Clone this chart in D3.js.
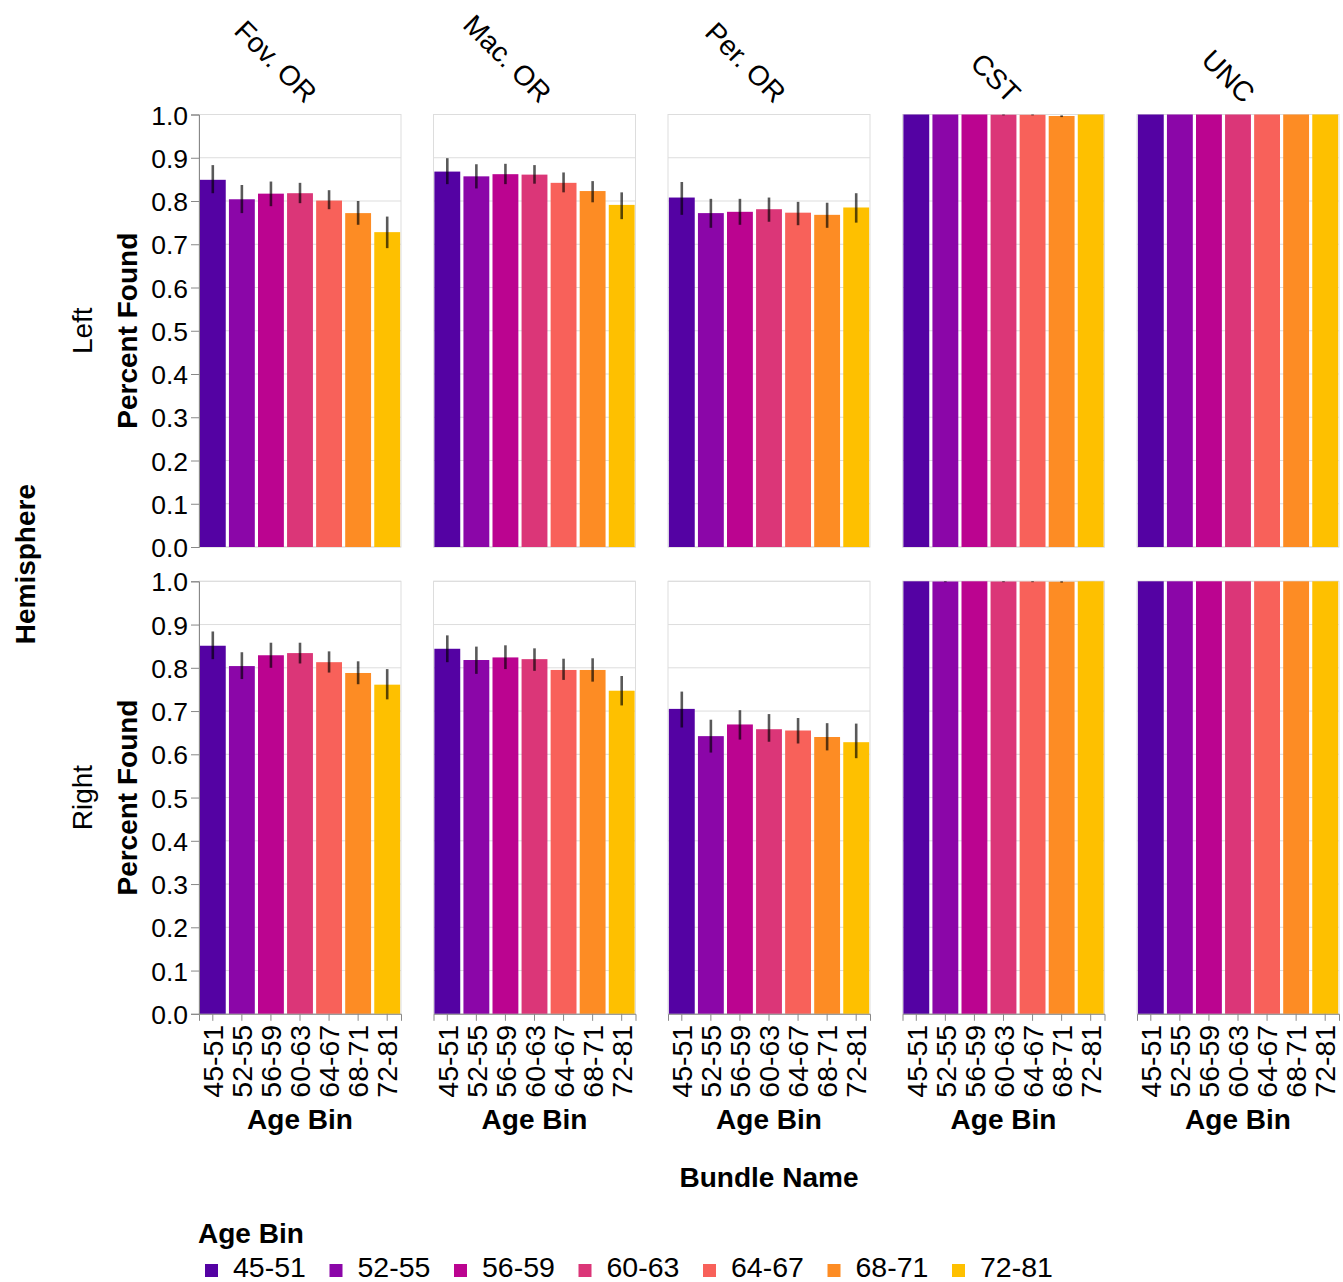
<!DOCTYPE html>
<html>
<head>
<meta charset="utf-8">
<script src="https://cdn.jsdelivr.net/npm/d3@7"></script>
<style>
  html, body { margin: 0; padding: 0; background: #fff; }
  svg text { font-family: "Liberation Sans", Arial, Helvetica, sans-serif; fill: #000; }
</style>
</head>
<body>
<svg id="chart" width="1343" height="1282"></svg>
<script>
// ---------------- DATA ----------------
const bundles = ["Fov. OR", "Mac. OR", "Per. OR", "CST", "UNC"];
const hemispheres = ["Left", "Right"];
const ageBins = ["45-51", "52-55", "56-59", "60-63", "64-67", "68-71", "72-81"];
const ageColors = ["#5402a3", "#8b06a8", "#bb0490", "#db3678", "#f8615a", "#fd8c24", "#fec000"];
const yTickValues = [0, 0.1, 0.2, 0.3, 0.4, 0.5, 0.6, 0.7, 0.8, 0.9, 1.0];

// Left hemisphere: mean, lower and upper CI per bundle (rows) and age bin (cols)
const leftMean = [
  [0.849, 0.804, 0.817, 0.818, 0.801, 0.772, 0.728],
  [0.868, 0.857, 0.862, 0.861, 0.842, 0.823, 0.791],
  [0.808, 0.772, 0.775, 0.781, 0.773, 0.768, 0.785],
  [1.000, 1.000, 1.000, 0.9995, 0.9993, 0.9965, 1.000],
  [1.000, 1.000, 1.000, 1.000, 1.000, 1.000, 1.000]
];
const leftLow = [
  [0.818, 0.772, 0.788, 0.795, 0.781, 0.745, 0.691],
  [0.839, 0.829, 0.839, 0.840, 0.820, 0.797, 0.758],
  [0.768, 0.738, 0.745, 0.752, 0.744, 0.738, 0.750],
  [1.000, 1.000, 1.000, 0.998, 0.998, 0.994, 1.000],
  [1.000, 1.000, 1.000, 1.000, 1.000, 1.000, 1.000]
];
const leftHigh = [
  [0.883, 0.837, 0.845, 0.842, 0.825, 0.800, 0.764],
  [0.899, 0.885, 0.886, 0.883, 0.866, 0.846, 0.820],
  [0.844, 0.805, 0.805, 0.808, 0.798, 0.796, 0.818],
  [1.000, 1.000, 1.000, 1.000, 1.000, 0.998, 1.000],
  [1.000, 1.000, 1.000, 1.000, 1.000, 1.000, 1.000]
];
// Right hemisphere
const rightMean = [
  [0.851, 0.804, 0.829, 0.834, 0.813, 0.788, 0.761],
  [0.844, 0.818, 0.824, 0.820, 0.795, 0.795, 0.747],
  [0.705, 0.642, 0.669, 0.658, 0.655, 0.640, 0.628],
  [1.000, 0.9995, 1.000, 0.9995, 0.9995, 0.9990, 1.000],
  [1.000, 1.000, 1.000, 1.000, 1.000, 1.000, 1.000]
];
const rightLow = [
  [0.820, 0.774, 0.800, 0.810, 0.789, 0.762, 0.727],
  [0.813, 0.786, 0.797, 0.793, 0.772, 0.768, 0.713],
  [0.662, 0.604, 0.634, 0.629, 0.625, 0.609, 0.591],
  [1.000, 0.998, 1.000, 0.998, 0.998, 0.997, 1.000],
  [1.000, 1.000, 1.000, 1.000, 1.000, 1.000, 1.000]
];
const rightHigh = [
  [0.884, 0.836, 0.858, 0.858, 0.838, 0.815, 0.797],
  [0.875, 0.849, 0.852, 0.845, 0.821, 0.822, 0.781],
  [0.745, 0.680, 0.702, 0.693, 0.684, 0.672, 0.671],
  [1.000, 1.000, 1.000, 1.000, 1.000, 1.000, 1.000],
  [1.000, 1.000, 1.000, 1.000, 1.000, 1.000, 1.000]
];

// ---------------- LAYOUT ----------------
const svg = d3.select("#chart");
const panelW = 202, panelH = 432.5;
const panelLeft0 = 199, panelStep = 234.5;
const rowTops = [114.5, 581.3];

const color = d3.scaleOrdinal().domain(ageBins).range(ageColors);
const x = d3.scaleBand().domain(ageBins).range([0, panelW]).paddingInner(0.11).paddingOuter(0.03);
const y = d3.scaleLinear().domain([0, 1]).range([panelH, 0]);

const rowsData = [
  { mean: leftMean, low: leftLow, high: leftHigh },
  { mean: rightMean, low: rightLow, high: rightHigh }
];

const gridColor = "#dddddd";
const axisColor = "#888888";

rowsData.forEach((rd, ri) => {
  bundles.forEach((b, bi) => {
    const g = svg.append("g")
      .attr("transform", `translate(${panelLeft0 + bi * panelStep},${rowTops[ri]})`);

    // gridlines
    g.selectAll("line.grid").data(yTickValues).enter().append("line")
      .attr("class", "grid")
      .attr("x1", 0).attr("x2", panelW)
      .attr("y1", d => y(d)).attr("y2", d => y(d))
      .attr("stroke", gridColor).attr("stroke-width", 1);

    // frame
    g.append("rect").attr("x", 0).attr("y", 0).attr("width", panelW).attr("height", panelH)
      .attr("fill", "none").attr("stroke", gridColor).attr("stroke-width", 1);

    const rows = ageBins.map((a, i) => ({
      age: a, mean: rd.mean[bi][i], low: rd.low[bi][i], high: rd.high[bi][i]
    }));

    // bars
    g.selectAll("rect.bar").data(rows).enter().append("rect")
      .attr("class", "bar")
      .attr("x", d => x(d.age))
      .attr("width", x.bandwidth())
      .attr("y", d => y(d.mean))
      .attr("height", d => y(0) - y(d.mean))
      .attr("fill", d => color(d.age));

    // error bars
    g.selectAll("line.err").data(rows.filter(d => d.high - d.low > 0.0005)).enter().append("line")
      .attr("class", "err")
      .attr("x1", d => x(d.age) + x.bandwidth() / 2)
      .attr("x2", d => x(d.age) + x.bandwidth() / 2)
      .attr("y1", d => y(d.low)).attr("y2", d => y(d.high))
      .attr("stroke", "#000").attr("stroke-opacity", 0.65).attr("stroke-width", 2.6);

    // y axis (first column only)
    if (bi === 0) {
      const ya = g.append("g").call(
        d3.axisLeft(y).tickValues(yTickValues).tickFormat(d3.format(".1f")).tickSize(8).tickPadding(3)
      );
      ya.select(".domain").attr("stroke", axisColor);
      ya.selectAll(".tick line").attr("stroke", axisColor);
      ya.selectAll(".tick text").style("font-size", "26.5px").attr("dy", "0.36em");

      // axis title
      g.append("text")
        .attr("transform", `translate(-62,${panelH / 2}) rotate(-90)`)
        .attr("text-anchor", "middle")
        .style("font-size", "28px").style("font-weight", "bold")
        .text("Percent Found");
      // row header
      g.append("text")
        .attr("transform", `translate(-107,${panelH / 2}) rotate(-90)`)
        .attr("text-anchor", "middle")
        .style("font-size", "28px")
        .text(hemispheres[ri]);
    }

    // x axis on bottom row
    if (ri === 1) {
      const xa = g.append("g").attr("transform", `translate(0,${panelH})`)
        .call(d3.axisBottom(x).tickSize(7).tickPadding(4));
      xa.select(".domain").attr("stroke", axisColor);
      xa.selectAll(".tick line").attr("stroke", axisColor);
      xa.selectAll(".tick text")
        .style("font-size", "28.5px")
        .attr("text-anchor", "end")
        .attr("transform", "rotate(-90)")
        .attr("x", -11).attr("y", 0).attr("dy", "0.36em");

      g.append("text")
        .attr("x", panelW / 2).attr("y", panelH + 115)
        .attr("text-anchor", "middle")
        .style("font-size", "28px").style("font-weight", "bold")
        .text("Age Bin");
    }

    // column headers
    if (ri === 0) {
      g.append("text")
        .attr("transform", `translate(${panelW / 2 + 5},${-10}) rotate(45)`)
        .attr("text-anchor", "end")
        .style("font-size", "28px")
        .text(b);
    }
  });
});

// Outer titles
svg.append("text")
  .attr("transform", `translate(35,${(rowTops[0] + rowTops[1] + panelH) / 2}) rotate(-90)`)
  .attr("text-anchor", "middle")
  .style("font-size", "28px").style("font-weight", "bold")
  .text("Hemisphere");

svg.append("text")
  .attr("x", panelLeft0 + (4 * panelStep + panelW) / 2).attr("y", 1187)
  .attr("text-anchor", "middle")
  .style("font-size", "28px").style("font-weight", "bold")
  .text("Bundle Name");

// Legend
const legend = svg.append("g").attr("transform", "translate(198,1243)");
legend.append("text").attr("x", 0).attr("y", 0)
  .style("font-size", "28px").style("font-weight", "bold").text("Age Bin");
const items = legend.selectAll("g.item").data(ageBins).enter().append("g")
  .attr("class", "item")
  .attr("transform", (d, i) => `translate(${i * 124.5},34)`);
items.append("rect").attr("x", 7).attr("y", -13).attr("width", 13).attr("height", 13)
  .attr("fill", d => color(d));
items.append("text").attr("x", 35).attr("y", 0)
  .style("font-size", "28.5px").text(d => d);
</script>
</body>
</html>
